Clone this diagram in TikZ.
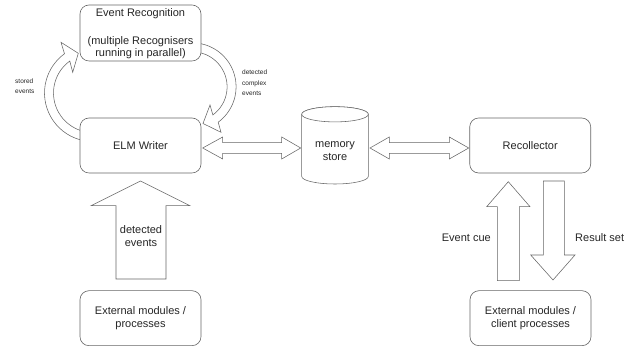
\documentclass[tikz,border=0pt]{standalone}
\usepackage{fontspec}
\setmainfont{Liberation Sans}
\usetikzlibrary{calc}
\tikzset{
  box/.style={draw=black!60, line width=0.6pt, rounded corners=9pt, minimum width=121pt,
    minimum height=55pt, fill=white, inner sep=0pt, align=center,
    font=\fontsize{11}{13.3}\selectfont, text=black!85},
  blk/.style={draw=black!60, line width=0.55pt, fill=white, line join=miter},
  lbl/.style={font=\fontsize{11}{13}\selectfont, text=black!85, inner sep=0pt, align=center},
  small/.style={font=\fontsize{6.5}{10.5}\selectfont, text=black!85, inner sep=0pt, align=left},
}
\begin{document}
\begin{tikzpicture}[x=1pt,y=1pt]
\useasboundingbox (0,0) rectangle (632,347);

% curved arrows (drawn first, boxes cover their ends)
\coordinate (cl) at (93,254);
\draw[blk] ($(cl)+(254.5:48.5)$) arc[start angle=254.5, end angle=126, radius=48.5]
  -- (61,304.7) -- (78.3,293.7) -- (72.7,274.7)
  -- ($(cl)+(126:39.5)$) arc[start angle=126, end angle=250.8, radius=39.5];
\coordinate (cr) at (192.1,260.2);
\draw[blk] ($(cr)+(78.3:44)$) arc[start angle=78.3, end angle=-53.6, radius=44]
  -- (221,214.7) -- (203,223.5) -- (210,242)
  -- ($(cr)+(-53.6:35)$) arc[start angle=-53.6, end angle=75.3, radius=35];

% boxes
\node[box] (er) at (140.5,314) [minimum height=56pt] {};
\node[lbl] (ert) at (140.5,333) {Event Recognition};
\node[lbl, font=\fontsize{11}{11.8}\selectfont] (erd) at (140.5,299.5) {(multiple Recognisers\\running in parallel)};
\node[box] (elm) at (140.5,201.5) {ELM Writer};
\node[box] (ext1) at (140.5,28.8) {External modules /\\processes};
\node[box] (rec) at (530.2,201.5) {Recollector};
\node[box] (ext2) at (530.5,28.8) {External modules /\\client processes};

% memory store cylinder
\draw[blk] (301.7,232.7) -- (301.7,170.6) arc[start angle=180, end angle=360, x radius=33.3, y radius=7.6]
  -- (368.3,232.7) arc[start angle=0, end angle=180, x radius=33.3, y radius=7.6] -- cycle;
\draw[blk] (335,232.7) ellipse[x radius=33.3, y radius=7.6];
\node[lbl] (mem) at (335,196) {memory\\store};

% horizontal double arrows
\draw[blk] (202.7,199) -- (222.7,210) -- (222.7,204.3) -- (281.7,204.3) -- (281.7,210) -- (300.7,199)
  -- (281.7,188) -- (281.7,193.7) -- (222.7,193.7) -- (222.7,188) -- cycle;
\draw[blk] (370,199) -- (389.3,210) -- (389.3,204.3) -- (449.3,204.3) -- (449.3,210) -- (468.7,199)
  -- (449.3,188) -- (449.3,193.7) -- (389.3,193.7) -- (389.3,188) -- cycle;

% vertical block arrows
\draw[blk] (116,68) -- (116,141.3) -- (91,141.3) -- (140.5,166) -- (190,141.3) -- (166,141.3) -- (166,68) -- cycle;
\draw[blk] (497.3,66.3) -- (497.3,140.3) -- (486.7,140.3) -- (508.3,165.3) -- (530,140.3) -- (519.3,140.3) -- (519.3,66.3) -- cycle;
\draw[blk] (543.3,166) -- (543.3,92) -- (530.7,92) -- (553,67) -- (575,92) -- (564.3,92) -- (564.3,166) -- cycle;

% labels
\node[small, anchor=west] (st) at (15,261) {stored\\events};
\node[small, anchor=west] (dc) at (242,264) {detected\\complex\\events};
\node[lbl] (de) at (141,110.5) {detected\\events};
\node[lbl, anchor=east] (ec) at (491,109) {Event cue};
\node[lbl, anchor=west] (rs) at (575,109) {Result set};
\end{tikzpicture}
\end{document}
